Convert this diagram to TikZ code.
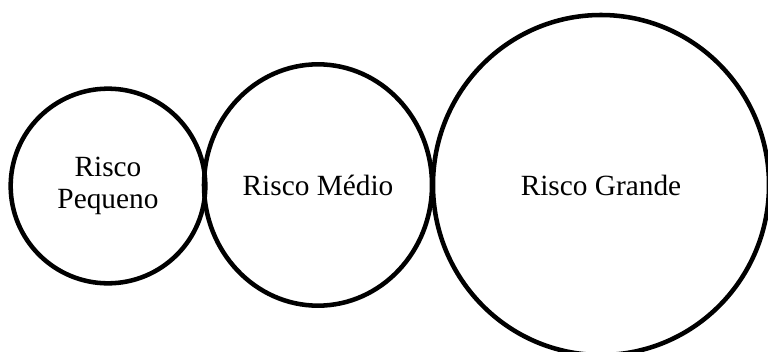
\documentclass[tikz,border=0pt]{standalone}
\usepackage{fontspec}
\setmainfont{Liberation Serif}
\usepackage{tikz}
\usetikzlibrary{positioning,shapes.geometric}
\tikzset{
  risk/.style={ellipse, draw, line width=3.4pt, align=center, inner sep=0pt,
               font=\fontsize{22}{23.5}\selectfont},
}

\begin{document}
\begin{tikzpicture}[x=0.75pt,y=0.75pt]
\useasboundingbox (0,0) rectangle (768,351);
\node[risk, minimum width=146pt, minimum height=146pt] (peq) at (108,165) {Risco\\Pequeno};
\node[risk, minimum width=171pt, minimum height=181pt] (med) at (318,166) {Risco Médio};
\node[risk, minimum width=252pt, minimum height=255pt] (gra) at (601,166) {Risco Grande};
\end{tikzpicture}
\end{document}
